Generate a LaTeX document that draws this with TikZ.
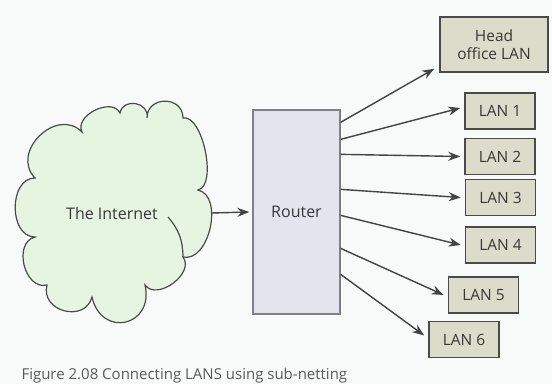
\documentclass[tikz,border=0pt]{standalone}
\usepackage{fontspec}
\setmainfont{Open Sans}
\usetikzlibrary{arrows.meta,calc}
\definecolor{bgc}{HTML}{F8F9F9}
\definecolor{cloudfill}{HTML}{E6F4E2}
\definecolor{routerfill}{HTML}{E4E4EF}
\definecolor{lanfill}{HTML}{DCDCCB}
\definecolor{edgec}{HTML}{4A4A4A}
\definecolor{txtc}{HTML}{383838}
\tikzset{
  lanbox/.style={draw=edgec, line width=1.5pt, fill=lanfill, minimum width=70pt, minimum height=36pt, inner sep=0pt, align=center, font=\fontsize{15.5}{18}\selectfont, text=txtc},
  conn/.style={draw=edgec!90!black, line width=1.4pt, -{Stealth[length=12pt,width=9pt]}},
  lbl/.style={font=\fontsize{16}{19}\selectfont, text=txtc},
  puff/.style={bend left=90, looseness=#1}
}
\begin{document}
\begin{tikzpicture}[x=1pt,y=-1pt]
\useasboundingbox (0,0) rectangle (552,384);
\clip (0,0) rectangle (552,384);
\fill[bgc] (0,0) rectangle (552,384);
% cloud
\draw[fill=cloudfill, draw=edgec, line width=1.2pt]
  (35,178) to[puff=1.4] (82,132) to[puff=1.1] (120,113)
  to[puff=1.5] (147,118) to[puff=1.6] (183,118)
  to[puff=0.7] (198,190) to[puff=1.0] (183,257)
  to[puff=1.1] (145,285) to[puff=2.0] (92,297)
  to[puff=1.5] (47,285) to[puff=1.2] (35,237)
  to[puff=1.15] (35,178) -- cycle;
\draw[draw=edgec, line width=1.2pt] (168,217) to[bend left=20] (183,257);
\node[lbl] (inet) at (112,213) {The Internet};
\coordinate (cloudE) at (211,213);
% router
\node[draw=edgec!70, line width=1.3pt, fill=routerfill, minimum width=87pt, minimum height=204pt, lbl] (router) at (296.5,212) {Router};
% LANs
\node[lanbox, minimum width=108pt, minimum height=55pt] (head) at (494,44.5) {Head\\office LAN};
\node[lanbox] (lan1) at (500,111) {LAN 1};
\node[lanbox] (lan2) at (500,156.5) {LAN 2};
\node[lanbox] (lan3) at (500.5,197.5) {LAN 3};
\node[lanbox] (lan4) at (500.5,245) {LAN 4};
\node[lanbox] (lan5) at (483.5,295) {LAN 5};
\node[lanbox] (lan6) at (464,339.5) {LAN 6};
% connectors
\draw[conn] (cloudE) -- ([xshift=-3pt]router.west);
\draw[conn] ($(router.north east)+(0,13)$) -- ($(head.south west)+(-5,-4)$);
\draw[conn] ($(router.north east)+(0,30)$) -- ($(lan1.west)+(-4,-3)$);
\draw[conn] ($(router.north east)+(0,45)$) -- ($(lan2.west)+(-4,0)$);
\draw[conn] ($(router.north east)+(0,80)$) -- ($(lan3.west)+(-4,0)$);
\draw[conn] ($(router.north east)+(0,106)$) -- ($(lan4.west)+(-4,0)$);
\draw[conn] ($(router.north east)+(0,139)$) -- ($(lan5.west)+(-4,0)$);
\draw[conn] ($(router.north east)+(0,165)$) -- ($(lan6.west)+(-4,-4)$);
% caption
\node[anchor=base west, font=\fontsize{15}{18}\selectfont, text=black!65] (cap) at (18,379) {Figure 2.08 Connecting LANS using sub-netting};
\end{tikzpicture}
\end{document}
